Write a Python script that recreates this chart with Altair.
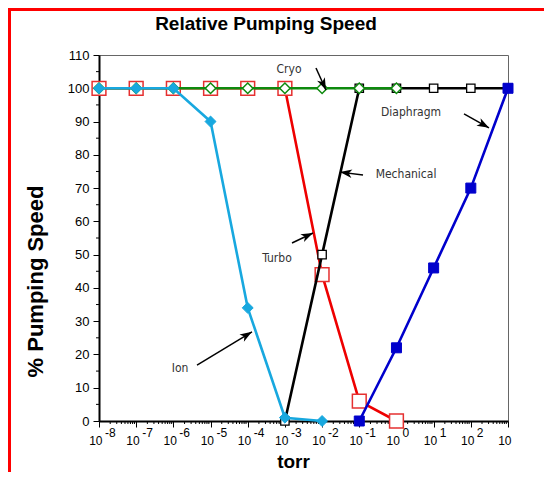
import math
import altair as alt
import pandas as pd

W, H = 409, 366
PAD = {"left": 91, "top": 47, "right": 36, "bottom": 51}

# ---- data -------------------------------------------------------------
torr = [1e-8, 1e-7, 1e-6, 1e-5, 1e-4, 1e-3, 1e-2, 1e-1, 1e0, 1e1, 1e2, 1e3]
y_ticks = [0, 10, 20, 30, 40, 50, 60, 70, 80, 90, 100, 110]
y_minor = [5, 15, 25, 35, 45, 55, 65, 75, 85, 95, 105]
x_exp_pos = [1e-8, 1e-7, 1e-6, 1e-5, 1e-4, 1e-3, 1e-2, 1e-1, 1e0, 1e1, 1e2]
x_exp_txt = ["-8", "-7", "-6", "-5", "-4", "-3", "-2", "-1", "0", "1", "2"]
x_minor = [k * 10.0 ** d for d in range(-8, 3) for k in range(2, 10)]

ion_torr = [1e-8, 1e-7, 1e-6, 1e-5, 1e-4, 1e-3, 1e-2]
ion_speed = [100, 100, 100, 90, 34, 1, 0]
turbo_torr = [1e-8, 1e-7, 1e-6, 1e-5, 1e-4, 1e-3, 1e-2, 1e-1, 1e0]
turbo_speed = [100, 100, 100, 100, 100, 100, 44, 6, 0]
cryo_torr = [1e-8, 1e-7, 1e-6, 1e-5, 1e-4, 1e-3, 1e-2, 1e-1, 1e0]
cryo_speed = [100, 100, 100, 100, 100, 100, 100, 100, 100]
mech_torr = [1e-3, 1e-2, 1e-1, 1e0, 1e1, 1e2, 1e3]
mech_speed = [0, 50, 100, 100, 100, 100, 100]
diaph_torr = [1e-1, 1e0, 1e1, 1e2, 1e3]
diaph_speed = [0, 22, 46, 70, 100]

label_text = ["Cryo", "Diaphragm", "Mechanical", "Turbo", "Ion"]
label_x = [1.29e-3, 2.47, 1.81, 6.12e-4, 1.51e-6]
label_y = [105.8, 92.9, 74.2, 49.0, 15.9]
arrow_x1 = [6.85e-3, 65.6, 0.126, 1.55e-3, 4.33e-6]
arrow_y1 = [106.1, 92.3, 73.9, 53.5, 16.8]
arrow_x2 = [1.27e-2, 308.0, 0.0303, 5.70e-3, 1.30e-4]
arrow_y2 = [99.5, 88.1, 74.8, 56.5, 26.8]

# ---- scales / axes ------------------------------------------------------
xs = alt.Scale(type="log", domain=[1e-8, 1e3], nice=False)
ys = alt.Scale(domain=[0, 110], nice=False)
FONT = "Liberation Sans"

xaxis = alt.Axis(
    values=torr, labelExpr="'10'", labelAlign="right", labelOffset=3,
    labelBaseline="alphabetic", labelPadding=17, labelFont=FONT, labelFontSize=12,
    labelColor="black", labelOverlap=False, labelFlush=False, labelBound=False,
    tickSize=6, tickColor="black", tickWidth=1, domainColor="black", domainWidth=2,
    grid=False, title="torr", titleFont=FONT, titleFontSize=19, titleFontWeight="bold",
    titleColor="black", titleX=194, titleY=46, titleAlign="center", titleBaseline="alphabetic",
)
yaxis = alt.Axis(
    values=y_ticks, labelFont=FONT, labelFontSize=13, labelColor="black", labelPadding=4,
    tickSize=6, tickColor="black", tickWidth=1, domainColor="black", domainWidth=2,
    grid=False, title="% Pumping Speed", titleFont=FONT, titleFontSize=22,
    titleFontWeight="bold", titleColor="black", titleX=-64, titleY=226, titleAngle=270,
    titleAlign="center", titleBaseline="middle",
)


def X(field):
    return alt.X(field, type="quantitative", scale=xs, axis=xaxis)


def Y(field):
    return alt.Y(field, type="quantitative", scale=ys, axis=yaxis)


one = pd.DataFrame({"a": [0]})
layers = []

# red frame (left + top)
layers.append(alt.Chart(one).mark_rule(color="#ff0000", strokeWidth=3).encode(
    x=alt.value(-89.5), y=alt.value(-PAD["top"]), y2=alt.value(H + PAD["bottom"])))
layers.append(alt.Chart(one).mark_rule(color="#ff0000", strokeWidth=3).encode(
    y=alt.value(-45.5), x=alt.value(-PAD["left"]), x2=alt.value(W + PAD["right"])))

# axis carrier
layers.append(alt.Chart(pd.DataFrame({"torr": torr, "speed": y_ticks})).mark_point(opacity=0).encode(
    x=X("torr"), y=Y("speed")))

# minor ticks
layers.append(alt.Chart(pd.DataFrame({"v": x_minor})).mark_rule(color="black", strokeWidth=1).encode(
    x=X("v"), y=alt.value(H), y2=alt.value(H + 3)))
layers.append(alt.Chart(pd.DataFrame({"v": y_minor})).mark_rule(color="black", strokeWidth=1).encode(
    y=Y("v"), x=alt.value(-3), x2=alt.value(0)))

# exponents of x tick labels
layers.append(alt.Chart(pd.DataFrame({"v": x_exp_pos, "t": x_exp_txt})).mark_text(
    align="left", baseline="alphabetic", dx=6, font=FONT, fontSize=12, color="black").encode(
    x=X("v"), y=alt.value(H + 16), text="t:N"))


def series(tx, sp, color, shape, size, fill, stroke, sw):
    df = pd.DataFrame({"torr": tx, "speed": sp})
    base = alt.Chart(df).encode(x=X("torr"), y=Y("speed"))
    line = base.mark_line(color=color, strokeWidth=2.6)
    pts = base.mark_point(shape=shape, size=size, filled=True, fill=fill, stroke=stroke,
                          strokeWidth=sw, opacity=1)
    return [line, pts]


layers += series(turbo_torr, turbo_speed, "#ee0000", "square", 190, "white", "#e53030", 1.5)
layers += series(mech_torr, mech_speed, "black", "square", 70, "white", "black", 1.3)
layers += series(cryo_torr, cryo_speed, "#0e8a0e", "diamond", 110, "white", "#0e8a0e", 1.5)
layers += series(ion_torr, ion_speed, "#18a8df", "diamond", 120, "#18a8df", "#18a8df", 1)
layers += series(diaph_torr, diaph_speed, "#0000cc", "square", 100, "#0000cc", "#0000cc", 1)

# annotations
ppd = W / 11.0
ppu = H / 110.0
angles = []
for a, b, c, d in zip(arrow_x1, arrow_y1, arrow_x2, arrow_y2):
    dx = (math.log10(c) - math.log10(a)) * ppd
    dy = -(d - b) * ppu
    angles.append(math.degrees(math.atan2(dx, -dy)) % 360)

arr = pd.DataFrame({"x1": arrow_x1, "y1": arrow_y1, "x2": arrow_x2, "y2": arrow_y2, "ang": angles})
layers.append(alt.Chart(arr).mark_rule(color="black", strokeWidth=1.5).encode(
    x=X("x1"), y=Y("y1"), x2="x2:Q", y2="y2:Q"))
layers.append(alt.Chart(arr).mark_point(
    shape="M0,0 L-0.6,1.7 L0,1.25 L0.6,1.7 Z", size=200, filled=True, color="black", opacity=1).encode(
    x=X("x2"), y=Y("y2"), angle=alt.Angle("ang:Q", scale=None)))

lab = pd.DataFrame({"t": label_text, "x": label_x, "y": label_y})
layers.append(alt.Chart(lab).mark_text(
    font="DejaVu Sans Condensed", fontSize=12, color="#333", align="center", baseline="middle").encode(
    x=X("x"), y=Y("y"), text="t:N"))

# chart title
layers.append(alt.Chart(one).mark_text(
    text="Relative Pumping Speed", font=FONT, fontSize=19, fontWeight="bold", color="black",
    align="center", baseline="alphabetic").encode(x=alt.value(167), y=alt.value(-25)))

chart = alt.layer(*layers).properties(
    width=W, height=H, padding=PAD, autosize=alt.AutoSizeParams(type="none"),
    background="white",
).configure_view(stroke="#666666", strokeWidth=1)

chart.save("out.html", embed_options={"renderer": "svg", "actions": False})
